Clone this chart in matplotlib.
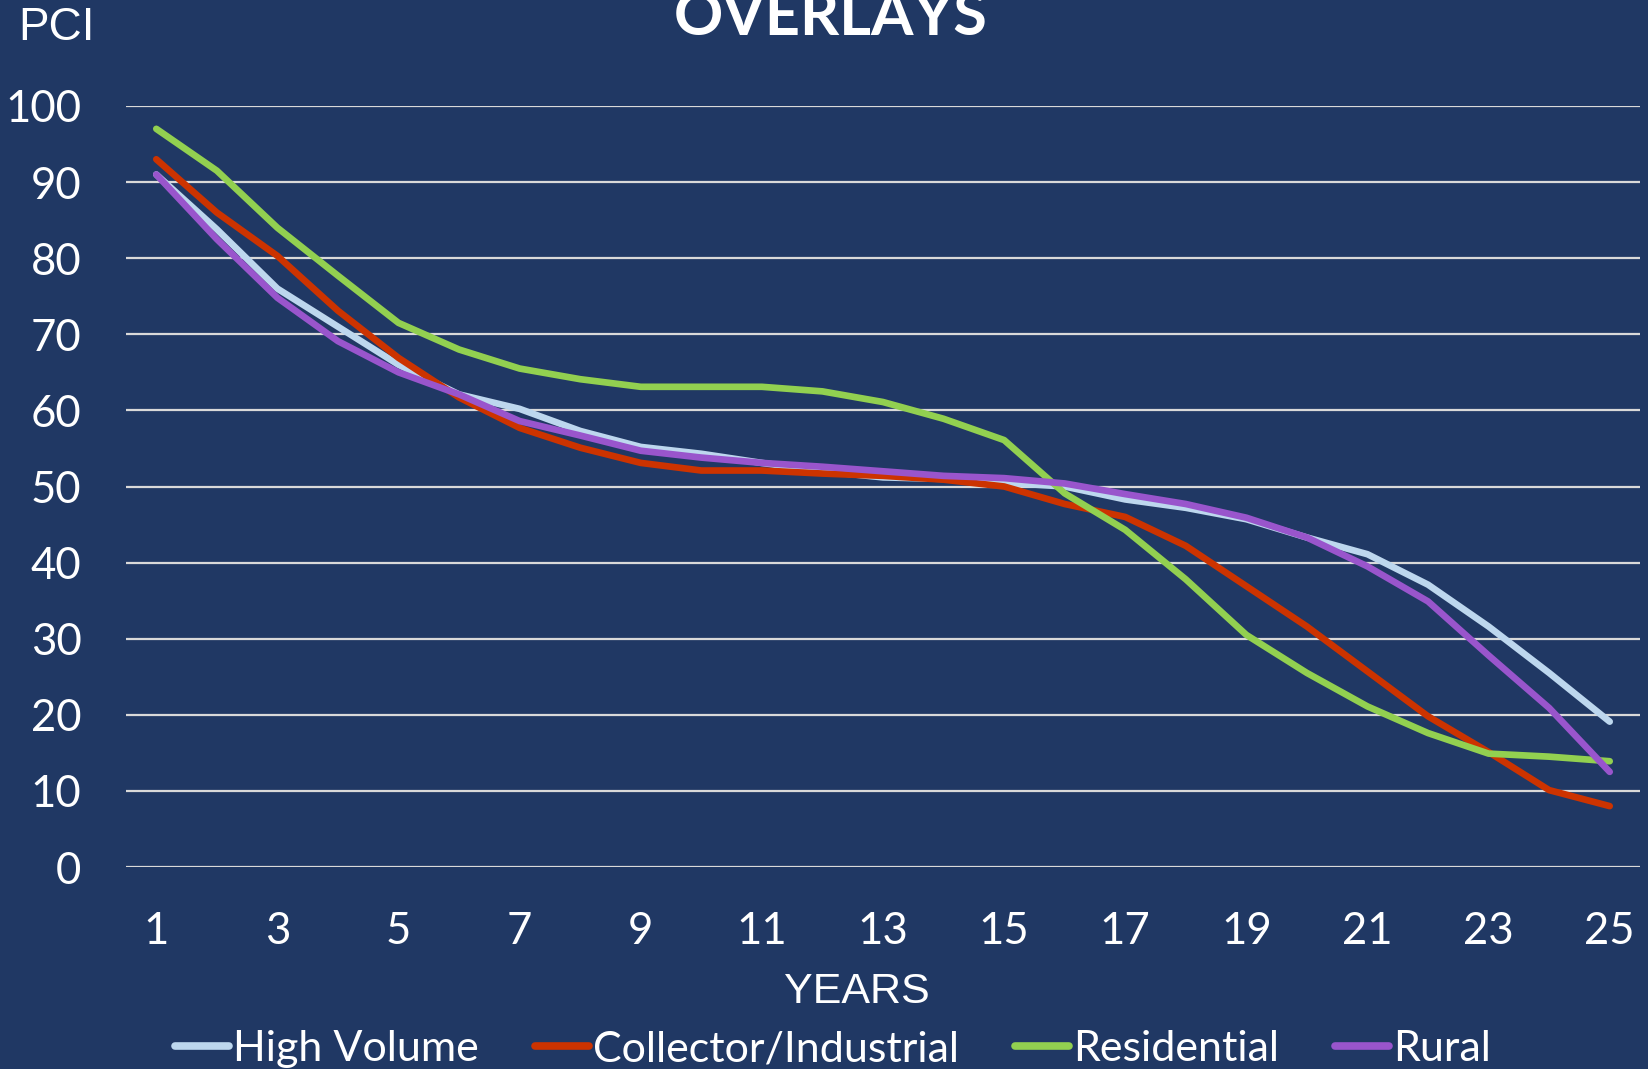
import matplotlib
matplotlib.use("Agg")
import matplotlib.pyplot as plt
import numpy as np

BG = "#203864"; INK = "#ffffff"; GRID = "#d9d9d9"
C_HV = "#bdd7ee"; C_CI = "#cc3300"; C_RES = "#92d050"; C_RUR = "#9955cc"

years = np.arange(1, 26)
high_volume = [91, 83.8, 76, 71, 66, 62.1, 60.2, 57.3, 55.2, 54.3, 53.1, 52, 51.2, 51, 50.5,
               50, 48.3, 47.2, 45.7, 43.3, 41.1, 37.1, 31.6, 25.5, 19.1]
collector = [93, 86, 80.3, 73.1, 66.9, 61.7, 57.7, 55.1, 53.1, 52.1, 52.1, 51.7, 51.4, 50.9, 50,
             47.7, 46, 42.2, 36.9, 31.6, 25.7, 19.8, 15.1, 10.1, 8]
residential = [97, 91.5, 84, 77.7, 71.5, 68, 65.5, 64.1, 63.1, 63.1, 63.1, 62.5, 61.1, 58.9, 56.1,
               49.1, 44.3, 37.8, 30.5, 25.5, 21.1, 17.6, 14.9, 14.5, 13.9]
rural = [91, 82.5, 74.8, 69.1, 65, 62.1, 58.6, 56.7, 54.7, 53.8, 53.1, 52.6, 52, 51.4, 51.1,
         50.4, 49, 47.7, 45.9, 43.3, 39.5, 34.9, 27.8, 20.9, 12.5]
series = [("High Volume", high_volume, C_HV), ("Collector/Industrial", collector, C_CI),
          ("Residential", residential, C_RES), ("Rural", rural, C_RUR)]
xticks = list(range(1, 26, 2))
yticks = list(range(0, 101, 10))

plt.rcParams.update({"font.family": ["Lato", "DejaVu Sans"]})

W, H = 1649, 1069
fig = plt.figure(figsize=(W / 100, H / 100), dpi=100, facecolor=BG)
ax = fig.add_axes([126 / W, 1 - 867 / H, (1640 - 126) / W, (867 - 106) / H])
ax.set_facecolor(BG)

for name, vals, col in series:
    ax.plot(years, vals, color=col, lw=4.8, label=name, solid_capstyle="round", zorder=3)

ax.set_xlim(0.5, 25.5)
ax.set_ylim(0, 100)
ax.set_yticks(yticks)
ax.set_xticks(xticks)
ax.yaxis.grid(True, color=GRID, lw=1.6, zorder=1)
ax.set_axisbelow(True)
for s in ax.spines.values():
    s.set_visible(False)
ax.tick_params(length=0, colors=INK, labelsize=31.5)
ax.tick_params(axis="y", pad=32)
ax.tick_params(axis="x", pad=32)

fig.text(18 / W, 1 - 28 / H, "PCI", color=INK, fontsize=33, family="Liberation Sans",
         ha="left", va="center")
fig.text(857 / W, 1 - 992 / H, "YEARS", color=INK, fontsize=31, family="Liberation Sans",
         ha="center", va="center")
fig.text(831 / W, 1 - 35 / H, "OVERLAYS", color=INK, fontsize=44, fontweight="bold",
         ha="center", va="baseline")

leg = fig.legend(loc="center", bbox_to_anchor=(833 / W, 1 - 1049 / H), ncol=4, frameon=False,
                 fontsize=31, labelcolor=INK, handlelength=1.25, handletextpad=0.1,
                 columnspacing=1.3)
for ln in leg.get_lines():
    ln.set_linewidth(5.5)

fig.savefig("out.png", facecolor=BG)
